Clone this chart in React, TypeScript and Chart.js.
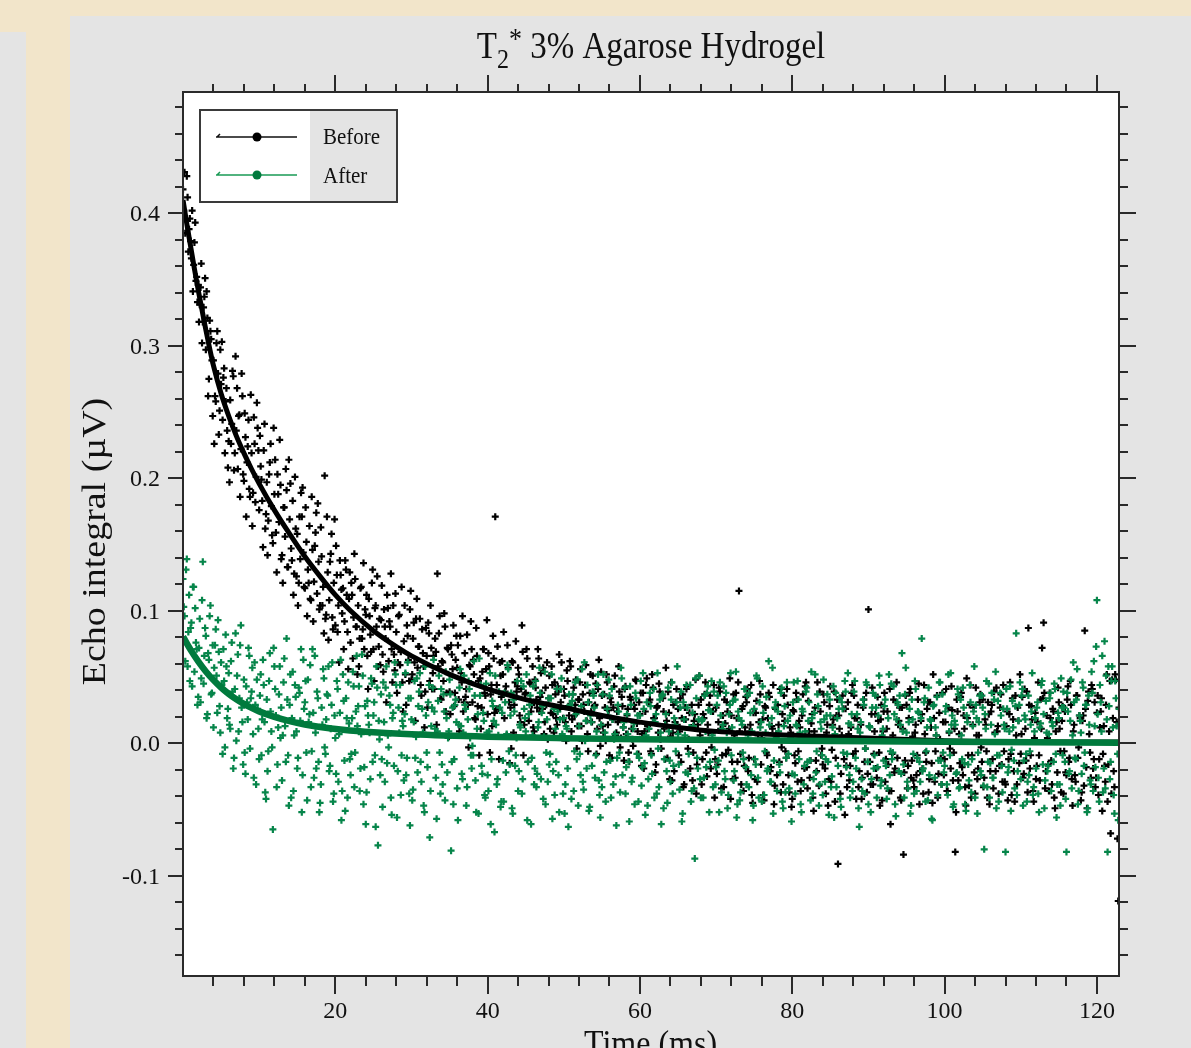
import { useEffect, useRef } from "react";
import { Chart, registerables } from "chart.js";

Chart.register(...registerables);

const PAGE_W = 1191;
const PAGE_H = 1048;

// acquisition grid of the echo samples (ms): the readout alternates between an
// "even" phase (t = 0, 0.2, 0.4 ...) and an "odd" phase (t = 0.1, 0.3, 0.5 ...)
const SAMPLE_INTERVAL_MS = 0.2;
const ODD_PHASE_OFFSET_MS = 0.1;
// values below are stored in thousandths of a microvolt
const MILLI = 1000;

const titleMain = "T";
const titleSub = "2";
const titleSup = "*";
const titleRest = " 3% Agarose Hydrogel";
const xAxisTitle = "Time (ms)";
const yAxisTitle = "Echo integral (\u00b5V)";
const seriesNames = ["Before", "After"];

const xMajorTicks = [20, 40, 60, 80, 100, 120];
const xTickLabels = ["20", "40", "60", "80", "100", "120"];
const yMajorTicks = [-0.1, 0, 0.1, 0.2, 0.3, 0.4];
const yTickLabels = ["-0.1", "0.0", "0.1", "0.2", "0.3", "0.4"];
const X_MINOR_STEP = 4;
const Y_MINOR_STEP = 0.02;
const X_MIN = 0;
const X_MAX = 122.9;
const Y_MIN = -0.1756;
const Y_MAX = 0.4915;

// "Before" echo integral, even-phase samples (x 1/1000 uV)
const beforeEvenMilli = [
  418,431,395,412,388, 379,402,361,393,352, 346,331,362,318,337, 297,321,275,311,289, 289,262,302,279,251,
  271,244,283,258,236, 228,259,241,277,219, 236,207,248,222,262, 198,231,212,244,186, 219,189,226,201,238,
  176,209,183,221,162, 197,168,212,179,151, 188,159,203,167,195, 142,178,156,191,133, 169,147,183,128,162,
  158,121,139,171,144, 117,152,131,164,108, 146,122,159,113,137, 104,141,118,202,97, 129,108,143,95,121,
  89,127,104,138,116, 117,92,131,84,109, 76,112,95,124,88, 104,79,118,86,71, 97,66,109,82,121,
  71,102,88,58,94, 93,67,101,79,112, 62,88,71,104,55, 84,61,97,69,46, 77,52,89,63,101,
  48,79,61,94,57, 73,44,86,58,39, 66,91,47,72,53, 41,69,128,83,34, 62,47,88,38,71,
  39,74,56,28,63, 57,33,81,46,24, 68,41,29,59,92, 31,52,18,66,47, 49,27,71,38,56,
  22,58,37,13,64, 171,44,26,61,35, 52,19,43,74,31, 27,62,8,46,39, 57,21,41,69,14,
  38,64,17,45,29, 12,48,33,71,24, 53,26,7,42,61, 34,11,58,22,46, 19,43,67,31,4,
  41,16,55,28,62, 9,37,21,48,13, 33,56,2,29,44, 17,-6,38,24,51, 28,45,11,63,-2,
  36,8,27,52,14, -9,31,18,43,6, 24,58,-3,35,12, 41,7,26,-14,33, 3,29,48,15,-8,
  22,-17,38,9,44, 13,31,-6,52,19, -22,27,8,39,-4, 34,11,57,-11,23, 5,-28,29,16,41,
  26,9,-14,37,-31, 18,43,3,-19,29, -7,22,-38,14,51, 33,-12,19,46,-25, 8,36,-3,24,-41,
  27,-16,42,11,-9, -33,15,31,-5,49, 21,-27,6,38,-14, 115,-8,26,-36,12, 31,-21,9,44,-45,
  -12,23,-29,16,37, 4,-39,28,-7,19, 35,-18,11,-46,26, -24,14,41,-3,-31, 17,-11,29,-37,8,
  -42,24,-15,33,-6, 12,-28,37,-19,46, -34,9,-13,22,-51, 27,-21,4,39,-9, -16,31,-38,14,-27,
  43,-5,18,-44,21, -91,11,-23,36,-12, 26,-33,7,-17,38, -8,19,-42,29,-21, 14,-26,33,-4,-37,
  101,-14,22,-31,9, -19,35,-7,18,-43, 24,-29,11,-16,41, -36,6,-22,31,-11, 17,-41,27,-84,-13,
  29,-17,38,-26,5, -33,14,-9,45,-21, 22,-38,7,-14,31, -27,12,-45,19,-6, 36,-23,3,-31,16,
  -12,41,-36,8,-19, 25,-7,-82,33,-28, -15,38,-24,11,-47, 19,-32,44,-9,27, -38,6,-19,31,-3,
  33,-26,14,-41,22, -21,29,-34,8,42, 13,-17,37,-29,-6, -31,24,-12,46,-39, 18,-44,6,27,-15,
  -8,35,-23,11,39, 87,-19,28,-36,4, -27,16,-9,33,72, 91,-34,21,-16,38, -13,26,-41,9,-22,
  31,-6,17,-38,24, -24,43,-11,29,-47, 14,-29,36,-3,19, -37,21,85,-18,32, 7,-26,41,-12,-33,
  23,-39,12,34,-8, -17,29,-44,9,-68, 48,-21,52,16,-119,
];

// "Before" echo integral, odd-phase samples (x 1/1000 uV)
const beforeOddMilli = [
  402,385,428,371,396, 366,341,378,349,333, 318,344,302,329,351, 341,262,319,305,247, 226,258,311,233,297,
  303,276,219,268,208, 197,226,281,206,292, 268,247,186,279,203, 249,171,224,192,263, 164,246,182,257,221,
  232,199,148,241,173, 142,203,226,157,238, 214,129,188,229,139, 121,178,207,133,214, 196,138,112,201,126,
  104,171,189,193,118, 178,96,121,109,186, 92,149,174,181,101, 163,104,83,94,171, 78,137,158,86,169,
  149,84,61,127,98, 71,138,112,56,129, 121,64,143,88,52, 58,117,79,136,101, 112,41,96,69,131,
  47,104,126,73,59, 119,54,88,31,102, 92,128,46,67,113, 38,96,59,118,24, 104,29,81,47,115,
  52,91,17,109,73, 94,36,68,12,87, 27,83,104,41,66, 79,14,58,96,33, 61,98,24,72,5,
  22,67,89,38,81, 74,9,53,96,31, 35,82,-3,58,71, 63,19,87,28,-9, 11,54,71,36,93,
  68,-7,44,81,23, 26,73,-12,51,62, 84,39,6,57,-15, -4,61,29,77,43, 52,16,89,-9,37,
  71,-14,46,24,58, 9,42,27,64,35, 38,57,16,29,3, 51,23,44,8,37, 14,39,26,61,19,
  36,2,47,21,58, 18,42,29,-4,33, 46,13,37,24,59, 7,31,52,16,38, 29,-8,41,19,54,
  13,37,2,46,25, 34,-11,27,51,8, 16,39,4,28,-13, 43,21,-7,35,11, -2,26,47,9,31,
  38,7,-19,24,49, 11,33,-8,42,19, -16,28,45,3,36, 24,-12,17,39,-27, 46,8,-21,31,14,
  -9,34,19,-33,27, 41,-4,23,12,-28, 17,48,-16,29,6, -31,22,37,-7,14, 29,-19,8,44,-12,
  -23,16,39,-34,21, 33,-8,24,11,-42, -14,37,-26,19,46, 9,-31,28,-17,35, 41,-11,14,-39,23,
  -27,32,6,47,-16, 18,-43,27,-9,38, -21,13,44,-32,7, 29,-14,-37,22,36, -6,41,-24,12,-48,
  25,-9,38,-29,17, -36,21,4,43,-18, 32,-26,15,-41,9, -13,46,-32,24,-4, 37,-19,8,-47,28,
  -29,14,39,-11,33, 21,-38,6,26,-54, -17,31,-28,12,44, 36,-6,19,-33,3, -42,27,-14,38,-23,
  13,-31,42,-8,22, -26,17,-47,29,9, 38,-12,24,-36,-61, -8,33,-19,46,14, 27,-43,11,-22,36,
  -34,19,41,-13,-28, 8,-24,33,-46,17, -19,44,-7,26,-37, 31,-15,52,-29,6, -41,23,-11,38,-24,
  16,-36,27,-4,43, -28,11,-52,24,7, 35,-18,21,-33,49, -9,29,-41,14,-22, 42,-27,6,37,-14,
  -33,18,-6,31,-46, 24,-12,39,-21,9, -38,27,-16,44,-29, 13,-43,22,-8,34, -21,36,-31,17,52,
  7,-26,41,-13,-37, 29,-9,18,-44,23, -17,46,-28,11,34, 38,-21,4,-36,19, -31,24,-49,16,42,
  11,-37,28,-6,-22, 33,-14,47,-27,9, -24,36,-11,21,-43, 17,-32,26,-49,39, -7,44,-19,31,-26,
  36,-12,24,-51,13, -29,52,-16,47,-38, 19,-33,48,-72,27,
];

// "After" echo integral, even-phase samples (x 1/1000 uV)
const afterEvenMilli = [
  124,96,131,58,112, 87,43,118,102,71, 35,94,49,137,66, 81,22,63,104,38, 12,74,51,93,28,
  61,-8,47,82,19, 53,11,76,-19,41, 2,67,34,89,16, 48,-23,31,72,-4, 39,7,61,-31,26,
  -12,52,18,44,-37, 33,-6,68,9,-65, 58,21,-16,37,4, -28,46,13,79,-9, 29,-41,54,6,35,
  -19,42,17,-52,63, 31,-7,48,22,-33, 71,-26,8,39,-14, -45,27,56,-3,18, 36,-21,11,61,-38,
  4,47,-29,23,-58, 52,-13,34,-41,15, -24,19,43,-7,66, 28,-36,7,51,-18, -61,32,14,-27,45,
  21,-9,58,-77,3, 37,-48,16,42,-15, -3,29,-54,23,61, 44,-21,8,-39,17, -28,53,-11,34,-62,
  18,-35,47,5,-22, 39,-14,26,-47,58, -7,31,-71,13,42, 24,-26,9,51,-38, -16,37,-43,19,4,
  48,-81,27,-12,33, -34,14,56,-23,8, 29,-47,18,41,-9, -2,62,-28,11,-53, 36,-17,23,-39,45,
  -24,9,-61,32,17, 51,-31,6,27,-44, -13,38,-22,59,-6, 21,-49,33,-17,4, -36,14,47,-27,26,
  9,-58,22,36,-11, 43,-19,-33,12,57, -27,28,5,-46,18, 34,-8,52,-21,-39, -14,24,-52,41,7,
  19,-31,11,-63,29, -42,37,-6,22,48, 13,-24,56,-35,2, -19,31,-48,16,39, 27,-9,44,-28,-56,
  -33,52,8,-14,21, 36,-41,18,3,-25, -11,24,-37,49,12, 42,-18,7,-59,29, -26,15,38,-8,-44,
  21,-32,53,-15,6, -47,11,28,-23,41, 16,-38,-4,33,-61, 37,-12,22,-45,9, -29,46,-17,14,31,
  7,-35,39,-53,18, -22,27,-8,44,-36, 13,-87,34,-19,51, -41,18,-26,9,38, 25,-14,47,-33,-5,
  -18,36,-52,21,11, 43,-27,8,-39,29, -9,32,-21,54,-46, 19,-37,14,-12,41, -31,6,38,-24,-58,
  26,-16,49,-41,12, -44,23,-6,35,-19, 14,-29,57,-13,31, -36,9,-22,42,-49, 28,-11,17,-34,4,
  -23,46,-38,13,33, 8,-52,24,-17,39, -14,31,-43,19,-27, 52,-6,28,-31,11, -39,18,-12,37,-54,
  21,-25,43,7,-33, -17,34,-48,26,3, 39,-8,15,-41,22, -29,47,-19,11,-63, 16,-36,29,-4,44,
  -46,12,-27,38,-9, 27,-18,51,-32,6, -13,33,-42,19,-24, 45,-7,22,-55,31, -21,14,68,-16,37,
  8,-34,26,-47,18, -38,41,-11,23,-29, 79,-19,34,-6,-43, -24,17,-58,29,12, 35,-13,46,-31,-7,
  -17,28,-39,9,53, 21,-46,14,-22,37, -33,6,42,-15,-51, 16,-28,31,-12,24, -41,19,-7,36,-24,
  27,-80,11,-33,45, -15,38,-26,7,-49, 32,-9,21,-37,14, -82,26,-18,43,-5, 12,-34,83,-21,29,
  -27,41,-13,18,-44, 36,-6,24,-39,9, -19,31,-52,15,47, 22,-28,8,-17,34, -36,13,45,-8,-31,
  19,-47,27,39,-14, -82,24,-21,48,6, 31,-12,56,-36,17, -23,42,-7,29,-49, 14,-31,38,62,-18,
  108,-26,44,9,-37, 77,51,-82,28,-14, 58,-39,47,13,-58,
];

// "After" echo integral, odd-phase samples (x 1/1000 uV)
const afterOddMilli = [
  103,62,139,84,47, 91,118,54,76,29, 72,31,108,45,87, 19,68,96,37,74, 57,86,23,69,8,
  44,71,-3,58,26, 14,62,39,-11,83, 51,9,74,27,-16, -7,43,18,66,34, 57,-26,29,48,11,
  36,-9,63,16,-42, -21,47,24,-3,72, 41,-33,12,58,27, 6,64,-14,33,-47, 52,19,-36,44,9,
  -11,38,71,-24,26, 47,-43,16,59,-6, 23,66,-19,34,-52, -31,14,49,-8,37, 58,-17,29,-44,21,
  -23,41,7,63,-36, 32,-51,19,46,-12, -8,54,-33,24,13, 43,-19,67,-46,28, -37,21,8,49,-14,
  31,-63,42,17,-24, -12,46,-29,58,6, 36,-41,19,-17,52, -56,27,44,-9,13, 22,-24,61,-38,34,
  -43,16,-11,49,28, 53,-29,8,-52,21, -18,44,-36,27,63, 11,-57,32,-7,41, -31,24,54,-22,9,
  37,-14,-46,29,16, -58,42,13,-27,51, 26,-33,47,4,-19, -9,36,-52,22,64, 44,-23,17,-41,8,
  -36,53,-12,28,-67, 14,-27,39,-48,23, -44,31,7,56,-16, 38,-53,24,-9,47, -21,12,-38,43,19,
  52,-14,29,-61,6, -31,47,-23,16,38, 23,-42,54,-7,-29, -16,34,-57,26,11, 41,-24,18,49,-38,
  -53,13,-19,37,27, 32,-36,46,-12,-47, -8,28,-29,61,17, 44,-51,21,-17,36, -26,9,52,-39,14,
  37,-22,-44,26,48, -13,41,-31,7,-62, 29,-7,57,-24,16, -38,22,-14,43,-29, 11,-46,34,21,-11,
  47,-18,26,-54,31, -27,38,-9,16,-41, 22,53,-33,8,36, -49,14,-21,42,-13, 33,-38,19,-6,58,
  -16,27,-59,31,6, 44,-23,12,-44,23, -34,49,-11,18,-27, 17,-41,36,-18,43, -52,24,6,39,-31,
  29,-13,46,-37,14, -21,38,-49,22,53, 12,-28,33,-56,24, -43,17,-7,41,-18, 36,-33,23,9,-47,
  -12,51,-26,31,16, 43,-39,8,-21,62, -29,19,-53,27,4, 24,-16,38,-44,13, -37,46,-8,21,-59,
  31,-24,14,47,-12, -46,26,-31,9,42, 17,-13,54,-38,23, -22,37,-47,16,-9, 48,-29,21,-14,33,
  -33,12,-56,38,19, 26,-42,31,-7,47, -18,53,-24,14,-36, 39,-11,22,-49,8, -27,33,-38,46,-14,
  13,-52,27,-19,36, -41,21,44,-28,11, 28,-17,-34,52,-6, -12,43,-46,18,29, 36,-23,9,-41,57,
  -29,16,-53,33,-8, 47,-36,24,-14,19, -21,31,-44,12,42, 18,-57,28,-26,6, -39,46,-13,37,-22,
  24,-31,52,-9,14, -48,17,-23,41,-34, 33,-12,27,-46,21, -16,44,-37,13,58, 29,-53,16,-21,36,
  -32,22,47,-14,-41, 14,-26,33,54,-9, -44,38,-17,26,11, 41,-22,9,-51,32, -13,28,-39,17,46,
  36,-47,21,-8,-29, -24,14,53,-33,19, 27,-38,12,44,-16, -49,32,-21,7,38, 16,-14,41,-56,23,
  -31,49,-9,27,-42, 38,-23,17,-34,61, -11,33,-46,21,8, 46,-17,29,-52,36, -28,54,-36,13,73,
  22,-44,31,66,-19, -34,18,58,-27,47, 12,-53,34,-8,26,
];

// fitted decay curves
const beforeFitTimes = [0, 0.5, 1, 1.5, 2, 2.5, 3, 3.5, 4, 5, 6, 7, 8, 9, 10, 12, 14, 16, 18, 20, 22, 25, 28, 30, 35, 40, 45, 50, 55, 60, 65, 70, 80, 90, 100, 110, 122.9];
const beforeFitValues = [0.41, 0.392, 0.375, 0.358, 0.342, 0.327, 0.312, 0.298, 0.285, 0.264, 0.247, 0.232, 0.219, 0.207, 0.196, 0.176, 0.158, 0.141, 0.126, 0.112, 0.1, 0.085, 0.073, 0.066, 0.052, 0.041, 0.033, 0.027, 0.021, 0.016, 0.012, 0.009, 0.006, 0.004, 0.002, 0.001, 0.001];
const afterFitTimes = [0, 1, 2, 3, 4, 5, 6, 7, 8, 9, 10, 12, 14, 16, 18, 21, 25, 30, 40, 50, 60, 80, 100, 122.9];
const afterFitValues = [0.0805, 0.0705, 0.0618, 0.0542, 0.0477, 0.0421, 0.0373, 0.0332, 0.0297, 0.0267, 0.0241, 0.0199, 0.0167, 0.0142, 0.0123, 0.0102, 0.0083, 0.0068, 0.005, 0.0039, 0.0031, 0.0019, 0.0011, 0.0005];

const BEIGE = "#f2e5ca";
const PANEL = "#e4e4e4";
const AXIS = "#2a2a2a";
const TEXT = "#111111";
const GREEN = "#06854a";
const GREEN_LINE = "#007a3d";
const SERIF = '"Liberation Serif", "Times New Roman", serif';

function toPoints(even: number[], odd: number[]) {
  const pts: { x: number; y: number }[] = [];
  even.forEach((v, i) => pts.push({ x: i * SAMPLE_INTERVAL_MS, y: v / MILLI }));
  odd.forEach((v, i) => pts.push({ x: ODD_PHASE_OFFSET_MS + i * SAMPLE_INTERVAL_MS, y: v / MILLI }));
  return pts.sort((a, b) => a.x - b.x);
}

const beforePoints = toPoints(beforeEvenMilli, beforeOddMilli);
const afterPoints = toPoints(afterEvenMilli, afterOddMilli);
const beforeFit = beforeFitTimes.map((t, i) => ({ x: t, y: beforeFitValues[i] }));
const afterFit = afterFitTimes.map((t, i) => ({ x: t, y: afterFitValues[i] }));

function drawText(
  ctx: CanvasRenderingContext2D,
  s: string,
  x: number,
  y: number,
  size: number,
  align: CanvasTextAlign,
  baseline: CanvasTextBaseline,
  stretchY: number,
) {
  ctx.save();
  ctx.translate(x, y);
  ctx.scale(1, stretchY);
  ctx.font = `${size}px ${SERIF}`;
  ctx.textAlign = align;
  ctx.textBaseline = baseline;
  ctx.fillStyle = TEXT;
  ctx.fillText(s, 0, 0);
  ctx.restore();
}

const decorPlugin = {
  id: "decor",
  beforeDraw(chart: any) {
    const ctx = chart.ctx as CanvasRenderingContext2D;
    const a = chart.chartArea;
    ctx.save();
    ctx.fillStyle = BEIGE;
    ctx.fillRect(0, 0, PAGE_W, PAGE_H);
    ctx.fillStyle = PANEL;
    ctx.fillRect(70, 16, PAGE_W - 70, PAGE_H - 16);
    ctx.fillRect(0, 32, 26, PAGE_H - 32);
    ctx.fillStyle = "#ffffff";
    ctx.fillRect(a.left, a.top, a.right - a.left, a.bottom - a.top);
    ctx.restore();
  },
  afterDatasetsDraw(chart: any) {
    const ctx = chart.ctx as CanvasRenderingContext2D;
    const a = chart.chartArea;
    const xs = chart.scales.x;
    const ys = chart.scales.y;
    ctx.save();

    // legend
    const lx0 = 200, ly0 = 110, lx1 = 397, ly1 = 202, lsplit = 310;
    ctx.fillStyle = "#ffffff";
    ctx.fillRect(lx0, ly0, lsplit - lx0, ly1 - ly0);
    ctx.fillStyle = PANEL;
    ctx.fillRect(lsplit, ly0, lx1 - lsplit, ly1 - ly0);
    ctx.strokeStyle = "#3a3a3a";
    ctx.lineWidth = 2;
    ctx.strokeRect(lx0, ly0, lx1 - lx0, ly1 - ly0);
    const legendRows = [
      { y: 137, line: "#111111", dot: "#000000", label: seriesNames[0], base: 144 },
      { y: 175, line: "#1a9a55", dot: GREEN_LINE, label: seriesNames[1], base: 183 },
    ];
    for (const r of legendRows) {
      ctx.strokeStyle = r.line;
      ctx.lineWidth = 1.5;
      ctx.beginPath();
      ctx.moveTo(216, r.y);
      ctx.lineTo(297, r.y);
      ctx.moveTo(217, r.y);
      ctx.lineTo(220, r.y - 3);
      ctx.stroke();
      ctx.fillStyle = r.dot;
      ctx.beginPath();
      ctx.arc(257, r.y, 4.5, 0, Math.PI * 2);
      ctx.fill();
      drawText(ctx, r.label, 323, r.base, 21, "left", "alphabetic", 1.12);
    }

    // frame
    ctx.strokeStyle = AXIS;
    ctx.lineWidth = 2;
    ctx.strokeRect(a.left, a.top, a.right - a.left, a.bottom - a.top);

    // ticks on all four sides
    ctx.beginPath();
    for (let i = 1; i * X_MINOR_STEP <= X_MAX; i++) {
      const v = i * X_MINOR_STEP;
      const major = i % 5 === 0;
      const px = Math.round(xs.getPixelForValue(v));
      ctx.moveTo(px, a.bottom);
      ctx.lineTo(px, a.bottom + (major ? 18 : 10));
      ctx.moveTo(px, a.top);
      ctx.lineTo(px, a.top - (major ? 17 : 8));
    }
    const kMin = Math.ceil(Y_MIN / Y_MINOR_STEP);
    const kMax = Math.floor(Y_MAX / Y_MINOR_STEP);
    for (let k = kMin; k <= kMax; k++) {
      const v = k * Y_MINOR_STEP;
      const major = k % 5 === 0;
      const py = Math.round(ys.getPixelForValue(v));
      ctx.moveTo(a.left, py);
      ctx.lineTo(a.left - (major ? 15 : 8), py);
      ctx.moveTo(a.right, py);
      ctx.lineTo(a.right + (major ? 17 : 9), py);
    }
    ctx.stroke();

    // tick labels
    xMajorTicks.forEach((v, i) => {
      drawText(ctx, xTickLabels[i], xs.getPixelForValue(v), 1018, 24, "center", "alphabetic", 1.0);
    });
    yMajorTicks.forEach((v, i) => {
      drawText(ctx, yTickLabels[i], 160, ys.getPixelForValue(v) + 1.5, 24, "right", "middle", 1.0);
    });

    // title with subscript / superscript
    const cx = (a.left + a.right) / 2;
    const sMain = 33, sSub = 24, sSup = 26;
    ctx.font = `${sMain}px ${SERIF}`;
    const wT = ctx.measureText(titleMain).width;
    const wRest = ctx.measureText(titleRest).width;
    ctx.font = `${sSub}px ${SERIF}`;
    const wSub = ctx.measureText(titleSub).width;
    ctx.font = `${sSup}px ${SERIF}`;
    const wSup = ctx.measureText(titleSup).width;
    let x0 = cx - (wT + wSub + wSup + wRest) / 2;
    drawText(ctx, titleMain, x0, 58, sMain, "left", "alphabetic", 1.15);
    x0 += wT;
    drawText(ctx, titleSub, x0, 68, sSub, "left", "alphabetic", 1.15);
    x0 += wSub;
    drawText(ctx, titleSup, x0, 48, sSup, "left", "alphabetic", 1.15);
    x0 += wSup;
    drawText(ctx, titleRest, x0, 58, sMain, "left", "alphabetic", 1.15);

    // axis titles
    drawText(ctx, xAxisTitle, 650.5, 1055, 32, "center", "alphabetic", 1.12);
    ctx.save();
    ctx.translate(105, 541.5);
    ctx.rotate(-Math.PI / 2);
    ctx.scale(1.15, 1);
    ctx.font = `33px ${SERIF}`;
    ctx.textAlign = "center";
    ctx.textBaseline = "alphabetic";
    ctx.fillStyle = TEXT;
    ctx.fillText(yAxisTitle, 0, 0);
    ctx.restore();

    ctx.restore();
  },
};

export default function App() {
  const canvasRef = useRef<HTMLCanvasElement>(null);

  useEffect(() => {
    if (!canvasRef.current) return;
    const chart = new Chart(canvasRef.current, {
      type: "scatter",
      data: {
        datasets: [
          {
            type: "line",
            label: "After fit",
            data: afterFit,
            borderColor: GREEN_LINE,
            borderWidth: 6.5,
            pointRadius: 0,
            cubicInterpolationMode: "monotone",
            fill: false,
            order: 0,
          } as any,
          {
            type: "line",
            label: "Before fit",
            data: beforeFit,
            borderColor: "#000000",
            borderWidth: 5,
            pointRadius: 0,
            cubicInterpolationMode: "monotone",
            fill: false,
            order: 1,
          } as any,
          {
            type: "scatter",
            label: seriesNames[1],
            data: afterPoints,
            pointStyle: "cross",
            pointRadius: 3.5,
            pointBorderWidth: 2.2,
            borderColor: GREEN,
            backgroundColor: GREEN,
            order: 2,
          } as any,
          {
            type: "scatter",
            label: seriesNames[0],
            data: beforePoints,
            pointStyle: "cross",
            pointRadius: 3.5,
            pointBorderWidth: 2.2,
            borderColor: "#000000",
            backgroundColor: "#000000",
            order: 3,
          } as any,
        ],
      },
      options: {
        animation: false,
        responsive: false,
        maintainAspectRatio: false,
        devicePixelRatio: 1,
        events: [],
        layout: { padding: { left: 183, top: 92, right: PAGE_W - 1119, bottom: PAGE_H - 976 } },
        scales: {
          x: { type: "linear", min: X_MIN, max: X_MAX, display: false },
          y: { type: "linear", min: Y_MIN, max: Y_MAX, display: false },
        },
        plugins: {
          legend: { display: false },
          tooltip: { enabled: false },
        },
      },
      plugins: [decorPlugin],
    } as any);
    return () => chart.destroy();
  }, []);

  return (
    <div style={{ position: "absolute", left: 0, top: 0, width: PAGE_W, height: PAGE_H, overflow: "hidden" }}>
      <canvas ref={canvasRef} width={PAGE_W} height={PAGE_H} style={{ display: "block", width: PAGE_W, height: PAGE_H }} />
    </div>
  );
}
